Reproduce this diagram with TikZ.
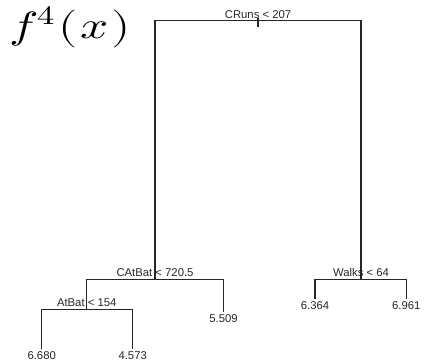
\documentclass[tikz,border=0pt]{standalone}
\usepackage{fontspec}
\setmainfont{Liberation Sans}
\usepackage{unicode-math}
\begin{document}
\begin{tikzpicture}[x=1pt,y=-1pt,
  branch/.style={line width=1.1pt,black!85},
  splitlabel/.style={anchor=base,inner sep=0pt,font=\fontsize{11.3}{11.3}\selectfont,text=black!85},
  leaflabel/.style={anchor=north,inner sep=0pt,font=\fontsize{11.3}{11.3}\selectfont,text=black!85}]
\useasboundingbox (0,0) rectangle (433,362);
% title
\node[anchor=base west,inner sep=0pt,font=\fontsize{38}{38}\selectfont,xscale=1.3] (title) at (9,38) {$f^{4}\mkern1mu(\mkern1mu x\mkern1mu)$};
% split points
\coordinate (root) at (258,20.7);
\coordinate (catbat) at (155,279.3);
\coordinate (walks) at (361,279.3);
\coordinate (atbat) at (86.7,309.3);
% leaves
\coordinate (l1) at (41.7,349);
\coordinate (l2) at (132.7,349);
\coordinate (l3) at (223.5,311.7);
\coordinate (l4) at (315,298.5);
\coordinate (l5) at (406.3,298.5);
% tree
\draw[branch] (catbat) |- (root) -| (walks);
\draw[branch] ([yshift=2.4pt]root) -- ([yshift=-6pt]root);
\draw[branch] (atbat) |- (catbat) -| (l3);
\draw[branch] (l1) |- (atbat) -| (l2);
\draw[branch] (l4) |- (walks) -| (l5);
% labels
\node[splitlabel] (troot) at ([yshift=2.5pt]root) {CRuns < 207};
\node[splitlabel] (tcat) at ([yshift=2.6pt]catbat) {CAtBat < 720.5};
\node[splitlabel] (tat) at ([yshift=2.6pt]atbat) {AtBat < 154};
\node[splitlabel] (twalks) at ([yshift=2.6pt]walks) {Walks < 64};
\node[leaflabel] (v1) at ([yshift=-2.5pt]l1) {6.680};
\node[leaflabel] (v2) at ([yshift=-2.5pt]l2) {4.573};
\node[leaflabel] (v3) at ([yshift=-2.5pt]l3) {5.509};
\node[leaflabel] (v4) at ([yshift=-3pt]l4) {6.364};
\node[leaflabel] (v5) at ([yshift=-3pt]l5) {6.961};
\end{tikzpicture}
\end{document}
